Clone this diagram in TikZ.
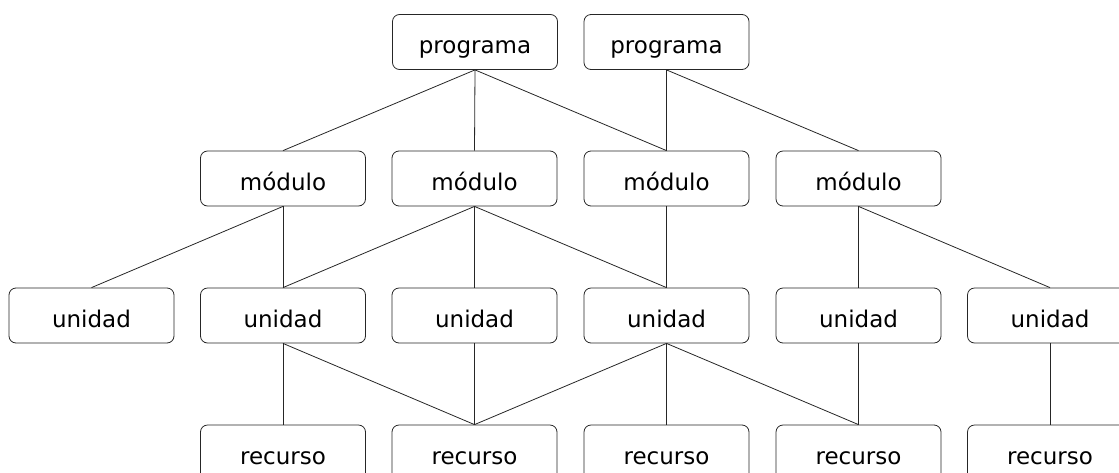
\documentclass[tikz,border=0pt]{standalone}
\usepackage{fontspec}
\setmainfont{DejaVu Sans}
\begin{document}
\begin{tikzpicture}[x=1pt,y=-1pt,
  box/.style={draw=black!85, line width=0.8pt, rounded corners=7pt, minimum width=165pt, minimum height=55pt, inner sep=0pt,
    font=\fontsize{23}{27}\selectfont, text height=23pt, text depth=0pt},
  link/.style={draw=black!85, line width=0.8pt}]
\useasboundingbox (0,0) rectangle (1119,472);
\clip (0,0) rectangle (1119,472);
% row 1
\node[box] (p1) at (475,42) {programa};
\node[box] (p2) at (666.5,42) {programa};
% row 2
\node[box] (m1) at (283,178.5) {módulo};
\node[box] (m2) at (474.5,178.5) {módulo};
\node[box] (m3) at (666.5,178.5) {módulo};
\node[box] (m4) at (858.5,178.5) {módulo};
% row 3
\node[box] (u1) at (91.5,315.5) {unidad};
\node[box] (u2) at (283,315.5) {unidad};
\node[box] (u3) at (474.5,315.5) {unidad};
\node[box] (u4) at (666.5,315.5) {unidad};
\node[box] (u5) at (858.5,315.5) {unidad};
\node[box] (u6) at (1050,315.5) {unidad};
% row 4
\node[box] (r1) at (283,452.5) {recurso};
\node[box] (r2) at (474.5,452.5) {recurso};
\node[box] (r3) at (666.5,452.5) {recurso};
\node[box] (r4) at (858.5,452.5) {recurso};
\node[box] (r5) at (1050,452.5) {recurso};
% links
\path[link] (p1.south) -- (m1.north);
\path[link] (p1.south) -- (m2.north);
\path[link] (p1.south) -- (m3.north);
\path[link] (p2.south) -- (m3.north);
\path[link] (p2.south) -- (m4.north);
\path[link] (m1.south) -- (u1.north);
\path[link] (m1.south) -- (u2.north);
\path[link] (m2.south) -- (u2.north);
\path[link] (m2.south) -- (u3.north);
\path[link] (m2.south) -- (u4.north);
\path[link] (m3.south) -- (u4.north);
\path[link] (m4.south) -- (u5.north);
\path[link] (m4.south) -- (u6.north);
\path[link] (u2.south) -- (r1.north);
\path[link] (u2.south) -- (r2.north);
\path[link] (u3.south) -- (r2.north);
\path[link] (u4.south) -- (r2.north);
\path[link] (u4.south) -- (r3.north);
\path[link] (u4.south) -- (r4.north);
\path[link] (u5.south) -- (r4.north);
\path[link] (u6.south) -- (r5.north);
\end{tikzpicture}
\end{document}
